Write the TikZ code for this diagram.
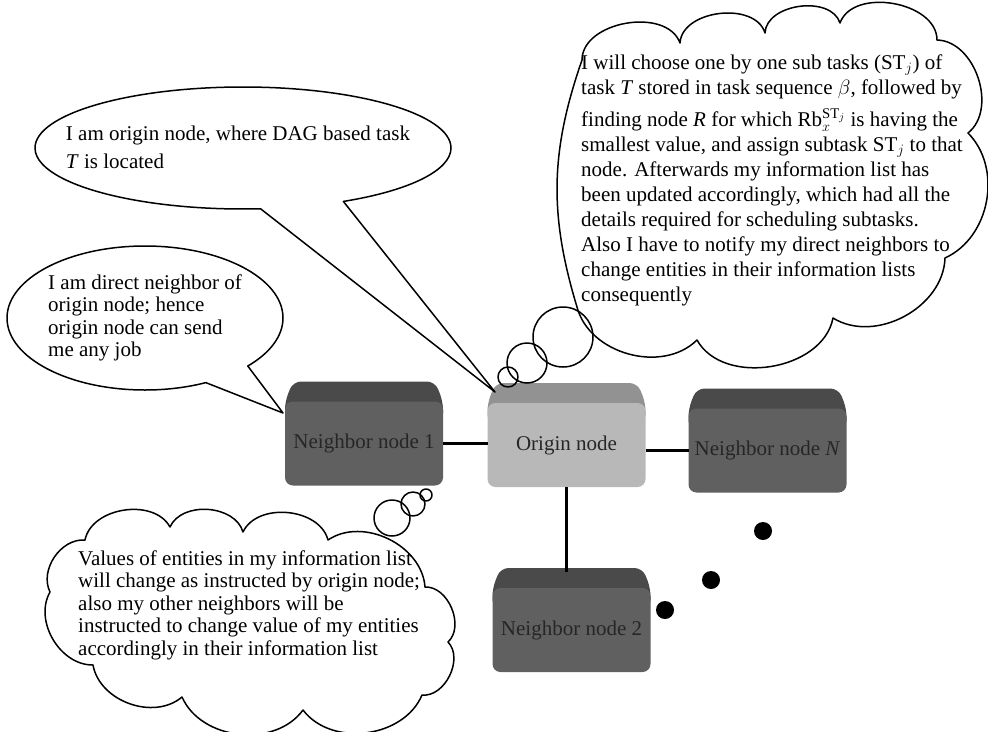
\documentclass[tikz,border=0pt]{standalone}
\usepackage{fontspec}
\setmainfont{Liberation Serif}
\usetikzlibrary{shapes.callouts, backgrounds, calc}
\definecolor{frontdark}{RGB}{96,96,96}
\definecolor{topdark}{RGB}{74,74,74}
\definecolor{frontlight}{RGB}{184,184,184}
\definecolor{toplight}{RGB}{146,146,146}
\tikzset{hostbox/.style={rounded corners=8pt, minimum width=158pt, minimum height=84pt, inner sep=0pt, outer sep=0pt, text=black!85, font=\fontsize{21}{25}\selectfont}}
\tikzset{link/.style={line width=2.6pt}}
\tikzset{speech/.style={ellipse callout, draw, fill=white, line width=1.5pt, inner sep=0pt, outer sep=0pt}}
\tikzset{thought/.style={draw, line width=1.5pt}}
\tikzset{saytext/.style={align=left, inner sep=0pt}}

\begin{document}
\begin{tikzpicture}[x=1pt, y=-1pt, line join=round] % pixel coordinates, y going down
  \useasboundingbox (0,0) rectangle (988,731);

  % the four hosts
  \node[hostbox, fill=frontdark] (n1) at (364,443.5) {Neighbor node 1};
  \node[hostbox, fill=frontlight] (orig) at (566.5,445) {Origin node};
  \node[hostbox, fill=frontdark] (nN) at (767.5,450.5) {Neighbor node \textit{N}};
  \node[hostbox, fill=frontdark] (n2) at (571.5,630) {Neighbor node 2};
  \begin{scope}[on background layer]
    \foreach \n/\c in {n1/topdark, orig/toplight, nN/topdark, n2/topdark}
      \fill[\c, rounded corners=8pt] ([yshift=-20pt]\n.north west) -- (\n.north west)
        -- ([xshift=8pt, yshift=20pt]\n.north west) -- ([xshift=-8pt, yshift=20pt]\n.north east)
        -- (\n.north east) -- ([yshift=-20pt]\n.north east) -- cycle;
  \end{scope}

  \draw[link] (n1.east) -- (orig.west |- n1.east);
  \draw[link] (orig.east |- nN.west) -- (nN.west);
  \draw[link] (orig.south) -- ([yshift=16pt]orig.south |- n2.north);

  % speech bubbles
  \coordinate (tip1) at (495,392);
  \coordinate (tip2) at (283,413);
  \node[speech, minimum width=416pt, minimum height=122pt, callout absolute pointer=(tip1), callout pointer arc=24] (say1) at (243,148) {};
  \node[saytext, font=\fontsize{21}{28}\selectfont] (say1text) at (238,147) {I am origin node, where DAG based task\\\textit{T} is located};
  \node[speech, minimum width=276pt, minimum height=144pt, callout absolute pointer=(tip2), callout pointer arc=22] (say2) at (145,318) {};
  \node[saytext, font=\fontsize{21}{22.3}\selectfont] (say2text) at (say2.center) {I am direct neighbor of\\origin node; hence\\origin node can send\\me any job};

  % thought clouds
  \draw[thought] (577,307) to[bend left=18] (582,60) to[bend left=80] (680,43) to[bend left=80] (765,33)
    to[bend left=80] (840,23) to[bend left=80] (937,40) to[bend left=70] (968,133) to[bend left=55] (945,258)
    to[bend left=60] (833,318) to[bend left=70] (697,340) to[bend left=60] (577,307) -- cycle;
  \node[saytext, anchor=west, font=\fontsize{21}{25}\selectfont] (plan) at (581,180)
    {I will choose one by one sub tasks \mbox{(ST$_j$)} of\\
     task \textit{T} stored in task sequence $\beta$, followed by\\[7pt]
     finding node \textit{R} for which Rb$_x^{\mathrm{ST}_j}$ is having the\\
     smallest value, and assign subtask ST$_j$ to that\\
     node. Afterwards my information list has\\
     been updated accordingly, which had all the\\
     details required for scheduling subtasks.\\
     Also I have to notify my direct neighbors to\\
     change entities in their information lists\\
     consequently};
  \foreach \x/\y/\r in {508/377/10, 527/363/20, 563/337/30}
    \draw[thought] (\x,\y) circle[radius=\r pt];

  \draw[thought] (93,665) to[bend left=60] (50,592) to[bend left=60] (85,540) to[bend left=70] (170,527)
    to[bend left=70] (243,532) to[bend left=70] (328,540) to[bend left=60] (425,587) to[bend left=70] (448,642)
    to[bend left=70] (422,695) to[bend left=60] (303,710) to[bend left=60] (182,697) to[bend left=60] (93,665) -- cycle;
  \node[saytext, anchor=west, font=\fontsize{21}{22.5}\selectfont] (update) at (78,605)
    {Values of entities in my information list\\
     will change as instructed by origin node;\\
     also my other neighbors will be\\
     instructed to change value of my entities\\
     accordingly in their information list};
  \foreach \x/\y/\r in {392/518/18, 413/504/12, 426/495/6}
    \draw[thought] (\x,\y) circle[radius=\r pt];

  % the other neighbors
  \foreach \x/\y in {763/531, 711/580, 665/610}
    \fill (\x,\y) circle[radius=9pt];
\end{tikzpicture}
\end{document}
